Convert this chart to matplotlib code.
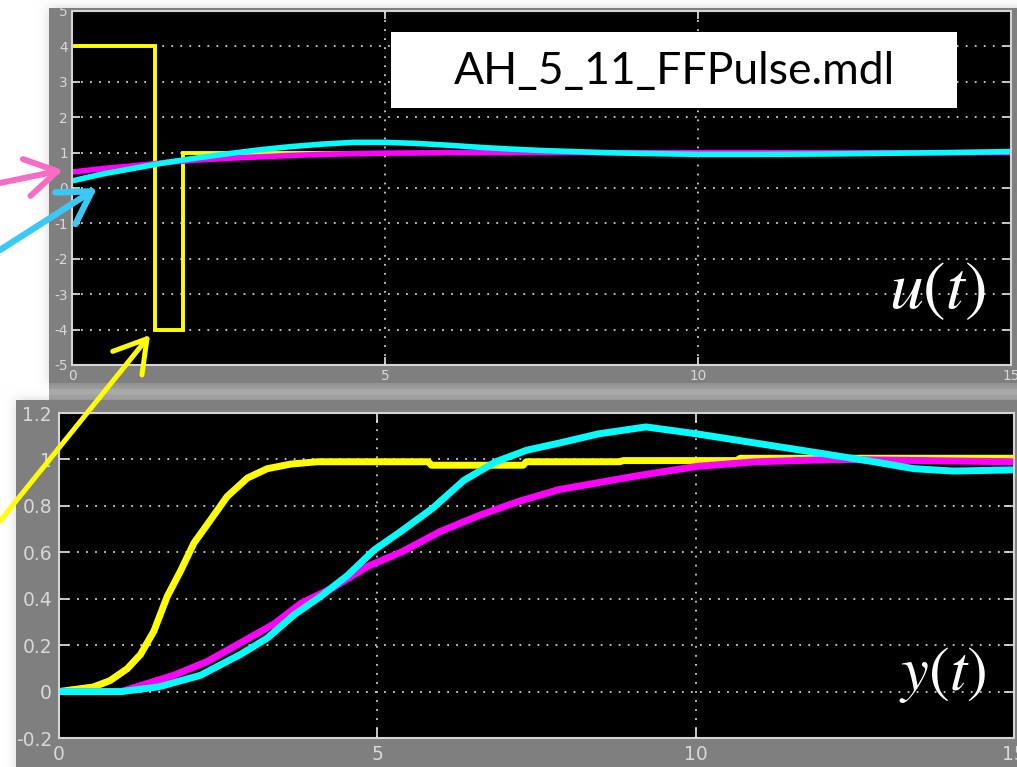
import numpy as np
import matplotlib
matplotlib.use('Agg')
import matplotlib.pyplot as plt
from matplotlib.patches import Rectangle, FancyArrowPatch

plt.rcParams['axes.unicode_minus'] = False
plt.rcParams['mathtext.fontset'] = 'stix'

# controller output u(t)
t_u = [0, 0.5, 1, 1.5, 2, 2.5, 3, 3.5, 4, 4.5, 5, 5.5, 6, 6.5, 7, 7.5, 8,
       8.5, 9, 10, 11, 12, 13, 14, 15]
u_pi = [0.45, 0.55, 0.63, 0.72, 0.79, 0.84, 0.88, 0.92, 0.95, 0.97, 0.985,
        0.99, 1.0, 1.0, 1.0, 1.0, 1.0, 1.0, 1.0, 1.0, 1.0, 1.0, 1.0, 1.0, 1.0]
u_fb = [0.2, 0.4, 0.56, 0.72, 0.85, 0.97, 1.08, 1.17, 1.24, 1.29, 1.29,
        1.26, 1.21, 1.15, 1.1, 1.06, 1.03, 1.0, 0.98, 0.95, 0.95, 0.96,
        0.98, 1.0, 1.03]
t_pulse = [0, 1.33, 1.33, 1.78, 1.78, 15]
u_pulse = [4, 4, -4, -4, 1.0, 1.0]

# process output y(t)
t_y_ff = [0, 0.54, 0.8, 1.07, 1.28, 1.49, 1.7, 1.91, 2.12, 2.33, 2.64, 2.96,
          3.27, 3.64, 4.06, 5.8, 5.85, 7.29, 7.34, 8.81, 8.86, 10.64, 10.7, 15]
y_ff = [0, 0.02, 0.047, 0.098, 0.16, 0.26, 0.41, 0.52, 0.64, 0.72, 0.84, 0.92,
        0.96, 0.98, 0.99, 0.99, 0.975, 0.975, 0.99, 0.99, 0.995, 0.995, 1.005,
        1.005]
t_y_pi = [0, 0.98, 1.33, 1.8, 2.33, 2.85, 3.37, 3.8, 4.32, 4.85, 5.37, 5.99,
          6.61, 7.23, 7.85, 8.47, 9.09, 10.02, 10.95, 12.2, 15]
y_pi = [0, 0, 0.03, 0.07, 0.13, 0.21, 0.29, 0.38, 0.45, 0.54, 0.6, 0.69,
        0.76, 0.82, 0.87, 0.9, 0.93, 0.97, 0.99, 1.0, 0.99]
t_y_fb = [0, 0.98, 1.56, 2.22, 2.85, 3.27, 3.69, 4.11, 4.53, 4.95, 5.37,
          5.87, 6.36, 6.86, 7.35, 7.85, 8.47, 9.22, 10.02, 10.95, 11.88,
          12.8, 13.43, 14.05, 15]
y_fb = [0, 0, 0.02, 0.07, 0.16, 0.23, 0.33, 0.41, 0.5, 0.61, 0.69, 0.79,
        0.91, 0.99, 1.04, 1.07, 1.11, 1.14, 1.11, 1.07, 1.03, 0.99, 0.96,
        0.95, 0.955]

u_ticks = [-5, -4, -3, -2, -1, 0, 1, 2, 3, 4, 5]
y_ticks = [-0.2, 0, 0.2, 0.4, 0.6, 0.8, 1, 1.2]
y_ticklabels = ['-0.2', '0', '0.2', '0.4', '0.6', '0.8', '1', '1.2']
t_ticks = [0, 5, 10, 15]

W, H = 1017, 767
fig = plt.figure(figsize=(W / 100, H / 100), dpi=100)


def px_rect(x0, y0, x1, y1):
    return [x0 / W, 1 - y1 / H, (x1 - x0) / W, (y1 - y0) / H]


def box_blur(a, r, n=3):
    k = np.ones(2 * r + 1) / (2 * r + 1)
    for _ in range(n):
        a = np.apply_along_axis(lambda m: np.convolve(m, k, mode='same'), 0, a)
        a = np.apply_along_axis(lambda m: np.convolve(m, k, mode='same'), 1, a)
    return a


# background: white page, soft shadow, grey scope windows
mask = np.zeros((H, W))
mask[8:383, 49:] = 1
mask[400:, 16:] = 1
shade = 1 - 0.16 * box_blur(np.pad(mask, 20, mode='edge'), 5)[20:-20, 20:-20]
img = np.dstack([shade] * 3)
img[8:383, 49:] = 0.5
img[400:, 16:] = 0.5
band = [0.58, 0.58, 0.59, 0.6, 0.6, 0.62, 0.66, 0.66, 0.67, 0.67, 0.66,
        0.65, 0.63, 0.63, 0.63, 0.62, 0.6]
img[383:400, 49:] = np.array(band)[:, None, None]

bg = fig.add_axes([0, 0, 1, 1], zorder=-2)
bg.imshow(img, extent=[0, W, H, 0], aspect='auto', interpolation='nearest')
bg.set_xlim(0, W)
bg.set_ylim(H, 0)
bg.axis('off')


def scope_style(ax, labelsize, ticklen, ypad, xpad):
    ax.set_facecolor('black')
    for s in ax.spines.values():
        s.set_color('#d4d4d4')
        s.set_linewidth(1.5)
    ax.tick_params(direction='in', length=ticklen, width=1.2, color='#e6e6e6',
                   top=True, right=True, labelcolor='#d8d8d8',
                   labelsize=labelsize)
    ax.tick_params(axis='y', pad=ypad)
    ax.tick_params(axis='x', pad=xpad)
    ax.grid(True, color='#cfcfcf', linestyle=(0, (1, 4)), linewidth=1.3)
    ax.set_xlim(0, 15)
    ax.set_xticks(t_ticks)
    ax.set_xticklabels([str(v) for v in t_ticks])


ax1 = fig.add_axes(px_rect(72, 11, 1011, 365))
scope_style(ax1, 9.8, 6, 3, 3)
ax1.set_ylim(-5, 5)
ax1.set_yticks(u_ticks)
ax1.set_yticklabels([str(v) for v in u_ticks])
ax1.plot(t_pulse, u_pulse, color='#ffff00', lw=2.8, solid_joinstyle='miter')
ax1.plot(t_u, u_pi, color='#ff00ff', lw=4)
ax1.plot(t_u, u_fb, color='#00ffff', lw=4)

ax2 = fig.add_axes(px_rect(59, 413, 1014, 738))
scope_style(ax2, 13.5, 7.5, 5, 5)
ax2.set_ylim(-0.2, 1.2)
ax2.set_yticks(y_ticks)
ax2.set_yticklabels(y_ticklabels)
ax2.plot(t_y_ff, y_ff, color='#ffff00', lw=5)
ax2.plot(t_y_pi, y_pi, color='#ff00ff', lw=5)
ax2.plot(t_y_fb, y_fb, color='#00ffff', lw=5)

# overlay in pixel coordinates for annotations
ov = fig.add_axes([0, 0, 1, 1], zorder=5)
ov.patch.set_alpha(0)
ov.imshow(img[0:8], extent=[0, W, 8, 0], aspect='auto', interpolation='nearest')
ov.imshow(img[383:400], extent=[0, W, 400, 383], aspect='auto',
          interpolation='nearest')
ov.set_xlim(0, W)
ov.set_ylim(H, 0)
ov.axis('off')

ov.add_patch(Rectangle((391, 32), 566, 76, fc='white', ec='none', zorder=3))
ov.text(674, 71, 'AH_5_11_FFPulse.mdl', fontsize=32, family='Lato',
        ha='center', va='center', color='black', zorder=4)
ov.text(986, 308, r'$u(t)$', fontsize=49, color='white', ha='right',
        va='baseline', zorder=4)
ov.text(986, 690, r'$y(t)$', fontsize=45, color='white', ha='right',
        va='baseline', zorder=4)

arrows = [((0, 183), (63, 170), '#f86cc4', 4.3),
          ((0, 250), (97, 188), '#3ac8f6', 4.6),
          ((0, 521), (150, 335), '#ffff00', 3.6)]
for start, end, col, lw in arrows:
    ov.add_patch(FancyArrowPatch(start, end,
                                 arrowstyle='->,head_length=0.75,head_width=0.45',
                                 mutation_scale=30, color=col, lw=lw,
                                 capstyle='round', joinstyle='round',
                                 shrinkA=0, shrinkB=0, zorder=6))

fig.savefig('out.png', dpi=100)
